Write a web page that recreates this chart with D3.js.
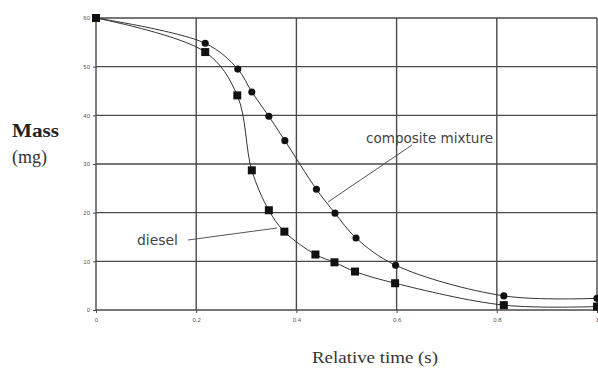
<!DOCTYPE html>
<html><head><meta charset="utf-8">
<script src="https://cdn.jsdelivr.net/npm/d3@7"></script>
<style>body{margin:0;background:#fff}svg{display:block}</style>
</head><body>
<svg id="c" width="598" height="369"></svg>
<script>
const xTicks = [0, 0.2, 0.4, 0.6, 0.8, 1];
const xTickLabels = ["0", "0.2", "0.4", "0.6", "0.8", "1"];
const yTicks = [0, 10, 20, 30, 40, 50, 60];
const compositeX = [0, 0.218, 0.283, 0.311, 0.345, 0.377, 0.44, 0.477, 0.519, 0.598, 0.814, 1.0];
const compositeY = [60, 54.8, 49.5, 44.8, 39.8, 34.8, 24.8, 19.9, 14.8, 9.2, 2.9, 2.4];
const dieselX = [0, 0.218, 0.282, 0.311, 0.345, 0.376, 0.438, 0.476, 0.517, 0.597, 0.814, 1.0];
const dieselY = [60, 53, 44.1, 28.7, 20.5, 16.1, 11.4, 9.8, 7.9, 5.5, 1.0, 0.7];

const svg = d3.select("#c");
const x = d3.scaleLinear().domain([0, 1]).range([96, 597]);
const y = d3.scaleLinear().domain([0, 60]).range([310, 18]);

// grid
const g = svg.append("g");
g.selectAll(".vg").data(xTicks).join("line")
  .attr("x1", d => x(d)).attr("x2", d => x(d)).attr("y1", y(60)).attr("y2", y(0))
  .attr("stroke", "#4a4a4a").attr("stroke-width", 1.4);
g.selectAll(".hg").data(yTicks).join("line")
  .attr("x1", x(0)).attr("x2", x(1)).attr("y1", d => y(d)).attr("y2", d => y(d))
  .attr("stroke", "#4a4a4a").attr("stroke-width", 1.4);

// axes
const ya = svg.append("g").attr("transform", `translate(${x(0)},0)`)
  .call(d3.axisLeft(y).tickValues(yTicks).tickSize(3).tickPadding(3));
ya.select(".domain").remove();
ya.selectAll("line").attr("stroke", "#4a4a4a");
ya.selectAll("text").attr("font-family", "Liberation Sans").attr("font-size", 6).attr("fill", "#555");

const xa = svg.append("g").attr("transform", `translate(0,${y(0)})`)
  .call(d3.axisBottom(x).tickValues(xTicks).tickFormat((d, i) => xTickLabels[i]).tickSize(3).tickPadding(5));
xa.select(".domain").remove();
xa.selectAll("line").attr("stroke", "#4a4a4a");
xa.selectAll("text").attr("font-family", "Liberation Sans").attr("font-size", 6).attr("fill", "#555");

// lines
const comp = compositeX.map((v, i) => [v, compositeY[i]]);
const dies = dieselX.map((v, i) => [v, dieselY[i]]);
const line = d3.line().x(d => x(d[0])).y(d => y(d[1])).curve(d3.curveCatmullRom.alpha(0.5));
svg.append("path").datum(comp).attr("d", line).attr("fill", "none").attr("stroke", "#333").attr("stroke-width", 1);
svg.append("path").datum(dies).attr("d", line).attr("fill", "none").attr("stroke", "#333").attr("stroke-width", 1);

// markers
svg.selectAll(".cm").data(comp).join("path")
  .attr("transform", d => `translate(${x(d[0])},${y(d[1])})`)
  .attr("d", d3.symbol().type(d3.symbolCircle).size(40)).attr("fill", "#111");
svg.selectAll(".dm").data(dies).join("rect")
  .attr("x", d => x(d[0]) - 4).attr("y", d => y(d[1]) - 4)
  .attr("width", 8).attr("height", 8).attr("fill", "#111");

// annotations
svg.append("text").attr("x", 366).attr("y", 143).text("composite mixture")
  .attr("font-family", "DejaVu Sans").attr("font-size", 13.3).attr("fill", "#444")
  .attr("textLength", 127).attr("lengthAdjust", "spacingAndGlyphs");
svg.append("line").attr("x1", 412).attr("y1", 145).attr("x2", 328).attr("y2", 202)
  .attr("stroke", "#555").attr("stroke-width", 1);
svg.append("text").attr("x", 137).attr("y", 245).text("diesel")
  .attr("font-family", "DejaVu Sans").attr("font-size", 13.3).attr("fill", "#444")
  .attr("textLength", 41).attr("lengthAdjust", "spacingAndGlyphs");
svg.append("line").attr("x1", 188).attr("y1", 240).attr("x2", 277).attr("y2", 228)
  .attr("stroke", "#555").attr("stroke-width", 1);

// axis titles
svg.append("text").attr("x", 12).attr("y", 137).text("Mass")
  .attr("font-family", "Liberation Serif").attr("font-weight", "bold").attr("font-size", 18).attr("fill", "#222")
  .attr("textLength", 47).attr("lengthAdjust", "spacingAndGlyphs");
svg.append("text").attr("x", 12).attr("y", 163).text("(mg)")
  .attr("font-family", "Liberation Serif").attr("font-size", 18).attr("fill", "#333");
svg.append("text").attr("x", 312).attr("y", 363).text("Relative time  (s)")
  .attr("font-family", "Liberation Serif").attr("font-size", 17).attr("fill", "#333")
  .attr("textLength", 126).attr("lengthAdjust", "spacingAndGlyphs");
</script>
</body></html>
